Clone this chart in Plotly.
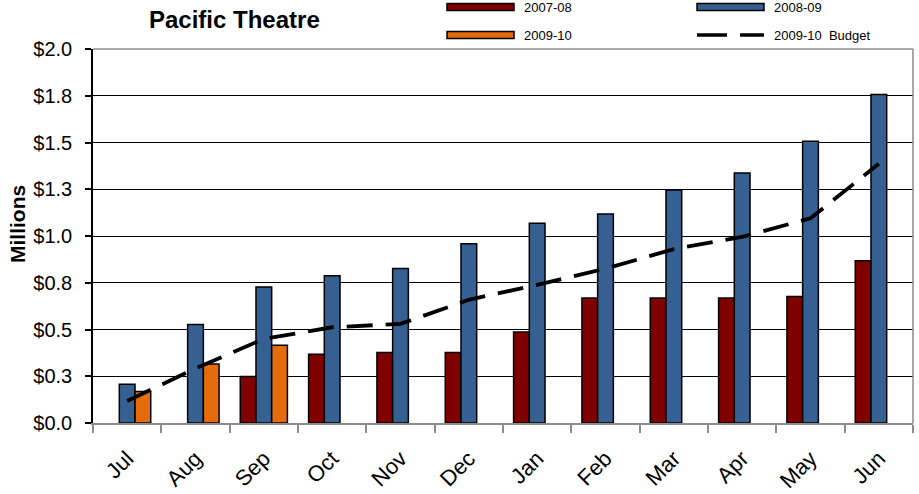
import plotly.graph_objects as go

# Monthly ticket revenue, in millions of dollars
months = ["Jul", "Aug", "Sep", "Oct", "Nov", "Dec",
          "Jan", "Feb", "Mar", "Apr", "May", "Jun"]
fy_2007_08 = [None, None, 0.248, 0.368, 0.377, 0.377,
              0.486, 0.668, 0.668, 0.668, 0.677, 0.868]
fy_2008_09 = [0.207, 0.527, 0.727, 0.787, 0.826, 0.959,
              1.068, 1.118, 1.246, 1.337, 1.507, 1.757]
fy_2009_10 = [0.168, 0.316, 0.416, None, None, None,
              None, None, None, None, None, None]
budget_2009_10 = [0.118, 0.292, 0.450, 0.512, 0.530, 0.659,
                  0.739, 0.825, 0.930, 0.995, 1.095, 1.386]

y_ticks = [0, 0.25, 0.5, 0.75, 1.0, 1.25, 1.5, 1.75, 2.0]
y_tick_text = ["$0.0", "$0.3", "$0.5", "$0.8", "$1.0", "$1.3", "$1.5", "$1.8", "$2.0"]

series_names = ["2007-08", "2008-09", "2009-10", "2009-10  Budget"]
colors = {"2007-08": "#800000", "2008-09": "#376092", "2009-10": "#E46C0A"}

FONT = "Liberation Sans, Arial, sans-serif"
W, H = 919, 494
L, R, T, B = 93, 6, 49, 71
PW, PH = W - L - R, H - T - B


def fx(x):
    return (x - L) / PW


def fy(y):
    return (H - B - y) / PH


fig = go.Figure()
for name, vals in [("2007-08", fy_2007_08), ("2008-09", fy_2008_09), ("2009-10", fy_2009_10)]:
    fig.add_trace(go.Bar(
        x=months, y=vals, name=name,
        marker=dict(color=colors[name], line=dict(color="black", width=1.5)),
        showlegend=False,
    ))

fig.add_trace(go.Scatter(
    x=months, y=budget_2009_10, name=series_names[3], mode="lines",
    line=dict(color="black", width=3.8, dash="26px,13px"),
    showlegend=False,
))

shapes = [
    # plot area frame (top and right edges)
    dict(type="line", xref="paper", yref="paper", x0=0, x1=1, y0=1, y1=1,
         line=dict(color="#8c8c8c", width=1.5), layer="above"),
    dict(type="line", xref="paper", yref="paper", x0=1, x1=1, y0=0, y1=1,
         line=dict(color="#8c8c8c", width=1.5), layer="above"),
]

annotations = [
    dict(text="<b>Pacific Theatre</b>", x=fx(234), y=fy(20), xref="paper", yref="paper",
         showarrow=False, xanchor="center", yanchor="middle",
         font=dict(family=FONT, size=24, color="black")),
    dict(text="<b>Millions</b>", x=fx(17), y=fy(224), xref="paper", yref="paper",
         showarrow=False, xanchor="center", yanchor="middle", textangle=-90,
         font=dict(family=FONT, size=21, color="black")),
]

# legend, two columns by two rows
legend_items = [
    (series_names[0], 447, 7),
    (series_names[1], 697, 7),
    (series_names[2], 447, 35),
    (series_names[3], 697, 35),
]
for name, x0, yc in legend_items:
    if name in colors:
        shapes.append(dict(type="rect", xref="paper", yref="paper",
                           x0=fx(x0), x1=fx(x0 + 67), y0=fy(yc - 3.5), y1=fy(yc + 3.5),
                           fillcolor=colors[name], line=dict(color="black", width=1.5)))
    else:
        for a, b in [(x0, x0 + 30), (x0 + 43, x0 + 67)]:
            shapes.append(dict(type="line", xref="paper", yref="paper",
                               x0=fx(a), x1=fx(b), y0=fy(yc), y1=fy(yc),
                               line=dict(color="black", width=3.5)))
    annotations.append(dict(text=name, x=fx(x0 + 75), y=fy(yc + 0.5), xref="paper", yref="paper",
                            showarrow=False, xanchor="left", yanchor="middle",
                            font=dict(family=FONT, size=13, color="black")))

fig.update_layout(
    width=W, height=H,
    margin=dict(l=L, r=R, t=T, b=B, pad=0, autoexpand=False),
    paper_bgcolor="white", plot_bgcolor="white",
    barmode="group", bargap=0.31, bargroupgap=0,
    font=dict(family=FONT, color="black"),
    shapes=shapes, annotations=annotations,
    showlegend=False,
    xaxis=dict(
        type="category", categoryorder="array", categoryarray=months,
        tickson="boundaries", ticks="outside", ticklen=8, tickwidth=2, tickcolor="#8c8c8c",
        showline=True, linecolor="#8c8c8c", linewidth=2,
        tickangle=-45, tickfont=dict(family=FONT, size=22, color="black"),
        ticklabelstandoff=12, automargin=False,
        showgrid=False, zeroline=False,
    ),
    yaxis=dict(
        range=[0, 2.0], tickvals=y_ticks, ticktext=y_tick_text,
        ticks="outside", ticklen=6, tickwidth=1.5, tickcolor="black",
        showline=True, linecolor="black", linewidth=1.5,
        showgrid=True, gridcolor="black", gridwidth=1.3,
        zeroline=False, tickfont=dict(family=FONT, size=20, color="black"),
        ticklabelstandoff=9, automargin=False,
    ),
)

fig.write_html("out.html")
